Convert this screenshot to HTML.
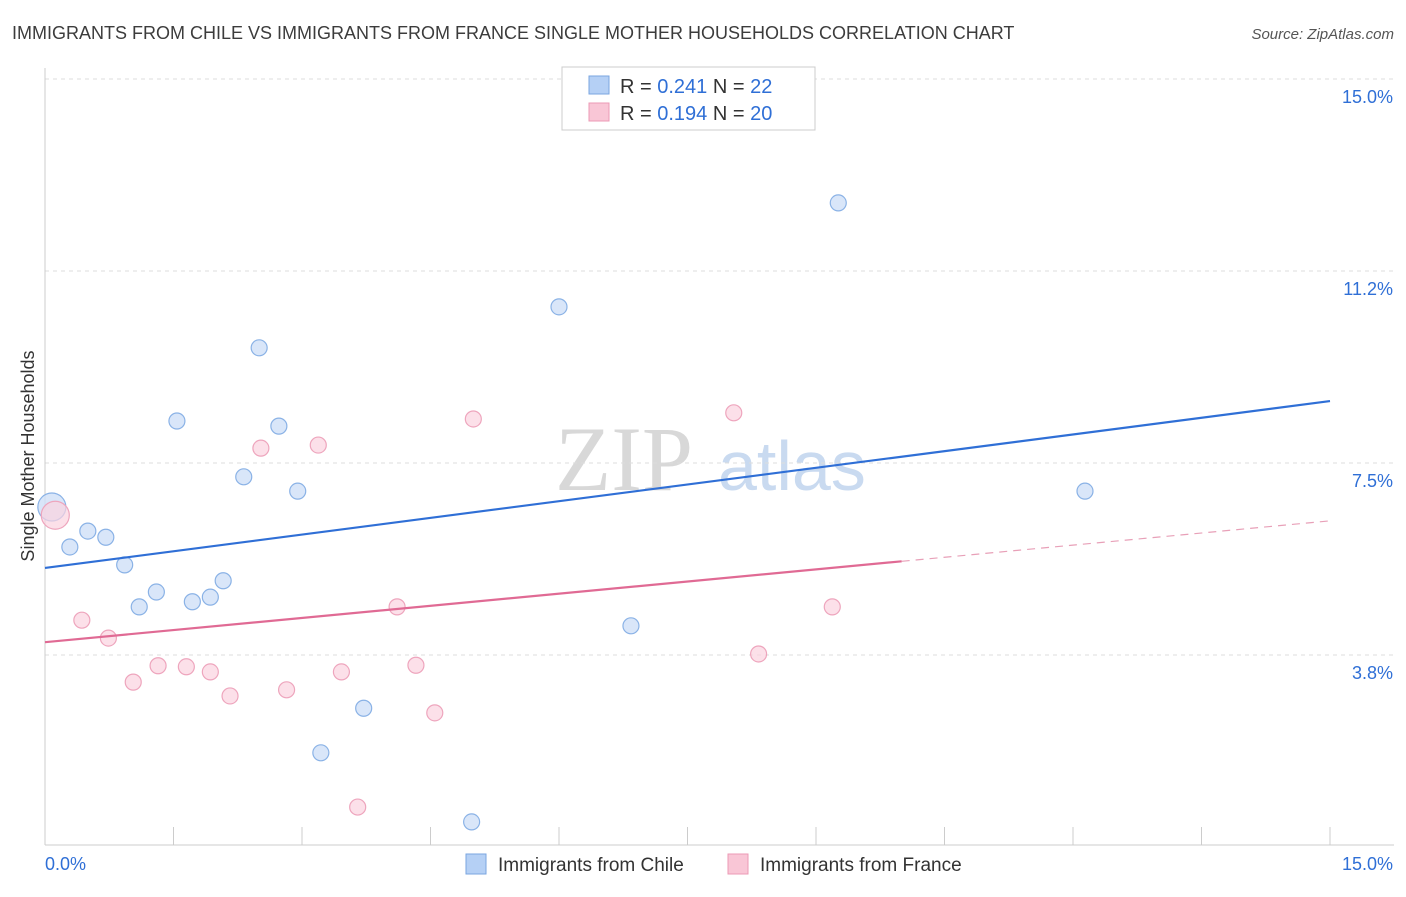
<!DOCTYPE html>
<html><head><meta charset="utf-8"><style>
body{margin:0;background:#fff;font-family:"Liberation Sans",sans-serif}
</style></head><body>
<svg id="chart" width="1406" height="892" xmlns="http://www.w3.org/2000/svg" font-family="Liberation Sans, sans-serif">
<text x="12" y="39" font-size="18" fill="#3c3c3c">IMMIGRANTS FROM CHILE VS IMMIGRANTS FROM FRANCE SINGLE MOTHER HOUSEHOLDS CORRELATION CHART</text>
<text x="1394" y="39" font-size="15" font-style="italic" fill="#555" text-anchor="end">Source: ZipAtlas.com</text>
<text x="555" y="490" font-size="92" font-family="Liberation Serif, serif" fill="#d8d8d8">ZIP</text>
<text x="718" y="490" font-size="70" fill="#c9daf0">atlas</text>
<text transform="translate(34,456) rotate(-90)" font-size="18" fill="#333" text-anchor="middle">Single Mother Households</text>
<g id="grid"></g><g id="ticks"></g><g id="marks"></g>
<g>
<rect x="562" y="67" width="253" height="63" fill="#fff" stroke="#ccc"/>
<rect x="589" y="76" width="20" height="18" fill="#b5d0f5" stroke="#7aa6e0"/>
<rect x="589" y="103" width="20" height="18" fill="#f9c6d6" stroke="#ec9ab5"/>
<text x="620" y="93" font-size="20" fill="#333">R = <tspan fill="#2f6fd6">0.241</tspan>   N =  <tspan fill="#2f6fd6">22</tspan></text>
<text x="620" y="120" font-size="20" fill="#333">R = <tspan fill="#2f6fd6">0.194</tspan>   N = <tspan fill="#2f6fd6">20</tspan></text>
</g>
<g>
<rect x="466" y="854" width="20" height="20" fill="#b5d0f5" stroke="#7aa6e0"/>
<text x="498" y="871" font-size="19" fill="#333">Immigrants from Chile</text>
<rect x="728" y="854" width="20" height="20" fill="#f9c6d6" stroke="#ec9ab5"/>
<text x="760" y="871" font-size="19" fill="#333">Immigrants from France</text>
</g>
</svg>
<script>
const yTicks=[3.75,7.5,11.25,15];
const yTickLabels=["3.8%","7.5%","11.2%","15.0%"];
const chileX=[0.08,0.29,0.50,0.71,0.93,1.10,1.30,1.54,1.72,1.93,2.08,2.32,2.50,2.73,2.95,3.22,3.72,4.98,6.00,6.84,9.26,12.14];
const chileY=[6.64,5.86,6.17,6.05,5.51,4.69,4.98,8.32,4.79,4.88,5.20,7.23,9.75,8.22,6.95,1.84,2.71,0.49,10.55,4.32,12.58,6.95];
const franceX=[0.12,0.43,0.74,1.03,1.32,1.65,1.93,2.16,2.52,2.82,3.19,3.46,3.65,4.11,4.33,4.55,5.00,8.04,8.33,9.19];
const franceY=[6.48,4.43,4.08,3.22,3.54,3.52,3.42,2.95,7.79,3.07,7.85,3.42,0.78,4.69,3.55,2.62,8.36,8.48,3.77,4.69];
const chileTrend=[5.45,8.71];
const franceTrend=[4.0,6.37];
const franceSolidEnd=10.0;
const NS="http://www.w3.org/2000/svg";
const X=v=>45+v*(1285/15), Y=v=>847-v*51.2;
function mk(tag,a,parent){const e=document.createElementNS(NS,tag);for(const k in a)e.setAttribute(k,a[k]);document.getElementById(parent).appendChild(e);return e;}
yTicks.forEach((t,i)=>{
 const g=mk('line',{x1:45,x2:1394,y1:Y(t),y2:Y(t),stroke:'#ddd','stroke-dasharray':'4,4'},'grid');
 
 
 const l=mk('text',{x:1393,y:Y(t)+24,'font-size':18,fill:'#2f6fd6','text-anchor':'end'},'ticks');l.textContent=yTickLabels[i];
 
 
});
const ax=mk('line',{x1:45,x2:45,y1:68,y2:845,stroke:'#ccc'},'grid');


const bx=mk('line',{x1:45,x2:1394,y1:845,y2:845,stroke:'#ccc'},'grid');


for(let i=0;i<=10;i++){const t=mk('line',{x1:X(i*1.5),x2:X(i*1.5),y1:827,y2:845,stroke:'#ccc'},'grid');
 
 }
const x0=mk('text',{x:45,y:870,'font-size':18,fill:'#2f6fd6'},'ticks');x0.textContent='0.0%';


const x1=mk('text',{x:1393,y:870,'font-size':18,fill:'#2f6fd6','text-anchor':'end'},'ticks');x1.textContent='15.0%';


chileX.forEach((x,i)=>{const c=mk('circle',{cx:X(x),cy:Y(chileY[i]),r:i==0?14:8,fill:'#cfe0f7','fill-opacity':0.8,stroke:'#8ab2e6','stroke-width':1.2},'marks');
 
 });
franceX.forEach((x,i)=>{const c=mk('circle',{cx:X(x),cy:Y(franceY[i]),r:i==0?14:8,fill:'#fbd3df','fill-opacity':0.7,stroke:'#eea5bd','stroke-width':1.2},'marks');
 
 });
const cl=mk('line',{x1:X(0),y1:Y(chileTrend[0]),x2:X(15),y2:Y(chileTrend[1]),stroke:'#2f6fd6','stroke-width':2.2},'marks');


const fy=v=>franceTrend[0]+(franceTrend[1]-franceTrend[0])*v/15;
const fl=mk('line',{x1:X(0),y1:Y(fy(0)),x2:X(franceSolidEnd),y2:Y(fy(franceSolidEnd)),stroke:'#e06a94','stroke-width':2.2},'marks');


const fd=mk('line',{x1:X(franceSolidEnd),y1:Y(fy(franceSolidEnd)),x2:X(15),y2:Y(fy(15)),stroke:'#e8a0b8','stroke-width':1.2,'stroke-dasharray':'8,6'},'marks');


</script>
</body></html>
